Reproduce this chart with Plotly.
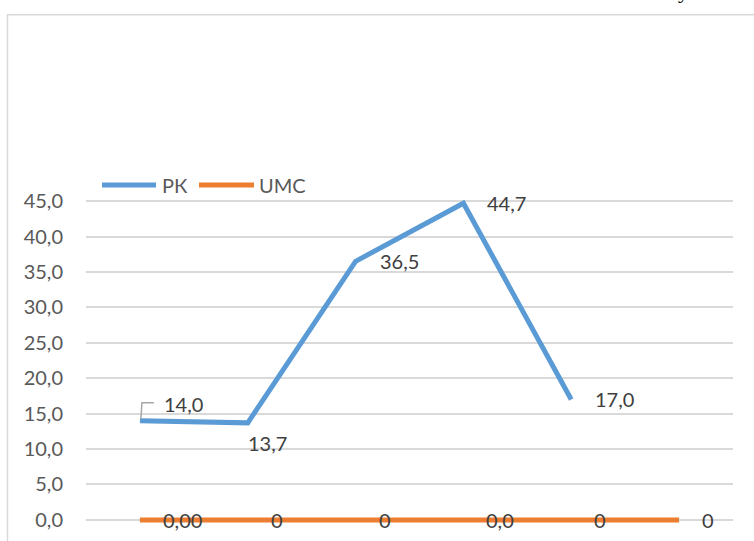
import plotly.graph_objects as go

# Series data
categories = ["1", "2", "3", "4", "5", "6"]
series_names = ["РК", "UMC"]
rk_values = [14.0, 13.7, 36.5, 44.7, 17.0, None]
umc_values = [0, 0, 0, 0, 0, 0]
umc_labels = ["0,00", "0", "0", "0,0", "0", "0"]
y_ticks = [0, 5, 10, 15, 20, 25, 30, 35, 40, 45]

BLUE = "#5B9BD5"
ORANGE = "#ED7D31"
GRID = "#D9D9D9"
TICK_COLOR = "#595959"
LABEL_COLOR = "#404040"
FONT = "Lato"
FS = 20

W, H = 754, 541
L, R, T, B = 86, 21, 194, 10
Y_MIN, Y_MAX = -1, 46
plot_w = W - L - R
plot_h = H - T - B


def px_to_paper_x(px):
    return (px - L) / plot_w


def px_to_paper_y(py):
    return (H - B - py) / plot_h


x = list(range(len(categories)))

fig = go.Figure()
fig.add_trace(go.Scatter(
    x=x, y=rk_values, name=series_names[0], mode="lines",
    line=dict(color=BLUE, width=5), cliponaxis=False, connectgaps=False,
    showlegend=False,
))
fig.add_trace(go.Scatter(
    x=x, y=umc_values, name=series_names[1], mode="lines",
    line=dict(color=ORANGE, width=5), cliponaxis=False,
    showlegend=False,
))

annotations = []


def fmt(v):
    return f"{v:.1f}".replace(".", ",")


# Value labels for РК
for i, v in enumerate(rk_values):
    if v is None:
        continue
    if i == 1:
        xs, ys = -2, -20
    elif i == 0:
        xs, ys = 22, 17
    else:
        xs, ys = 22, 0
    annotations.append(dict(
        x=x[i], y=v, xref="x", yref="y", text=fmt(v), showarrow=False,
        xanchor="left", yanchor="middle", xshift=xs, yshift=ys,
        font=dict(family=FONT, size=FS, color=LABEL_COLOR),
    ))

# Value labels for UMC
for i, (v, lab) in enumerate(zip(umc_values, umc_labels)):
    annotations.append(dict(
        x=x[i], y=v, xref="x", yref="y", text=lab, showarrow=False,
        xanchor="left", yanchor="middle", xshift=21, yshift=0,
        font=dict(family=FONT, size=FS, color=LABEL_COLOR),
    ))

# Legend entries (line sample + name) along the top of the plot
legend_items = [
    (series_names[0], BLUE, 102, 156, 160),
    (series_names[1], ORANGE, 199, 254, 257),
]
LEG_Y = 185
shapes = []
for name, color, lx0, lx1, tx in legend_items:
    shapes.append(dict(
        type="line", xref="paper", yref="paper",
        x0=px_to_paper_x(lx0), x1=px_to_paper_x(lx1),
        y0=px_to_paper_y(LEG_Y), y1=px_to_paper_y(LEG_Y),
        line=dict(color=color, width=5),
    ))
    annotations.append(dict(
        x=px_to_paper_x(tx), y=px_to_paper_y(LEG_Y), xref="paper", yref="paper",
        text=name, showarrow=False, xanchor="left", yanchor="middle",
        font=dict(family=FONT, size=FS, color=TICK_COLOR),
    ))

# Tail of a character from the surrounding text, above the chart frame
annotations.append(dict(
    x=px_to_paper_x(683), y=px_to_paper_y(-12), xref="paper", yref="paper",
    text="у", showarrow=False, xanchor="center", yanchor="middle",
    font=dict(family="Liberation Serif", size=22, color="#000000"),
))

shapes += [
    # chart frame
    dict(type="rect", xref="paper", yref="paper",
         x0=px_to_paper_x(7.5), x1=px_to_paper_x(W + 20),
         y0=px_to_paper_y(H + 20), y1=px_to_paper_y(12.5),
         line=dict(color=GRID, width=1.5), fillcolor="rgba(0,0,0,0)", layer="below"),
    # leader line of the first label
    dict(type="path", xref="x", yref="y",
         xsizemode="pixel", ysizemode="pixel",
         xanchor=x[0], yanchor=rk_values[0],
         path="M 1,2 L 2,18 L 14,18",
         line=dict(color="#A6A6A6", width=1.5)),
]

fig.update_layout(
    width=W, height=H,
    margin=dict(l=L, r=R, t=T, b=B, pad=0),
    paper_bgcolor="white", plot_bgcolor="white",
    separators=", ",
    font=dict(family=FONT, size=FS, color=TICK_COLOR),
    showlegend=False,
    xaxis=dict(
        range=[-0.5, len(categories) - 0.5], showgrid=False, zeroline=False,
        showticklabels=False, ticks="", showline=False, fixedrange=True,
    ),
    yaxis=dict(
        range=[Y_MIN, Y_MAX], tickvals=y_ticks, tickformat=".1f",
        showgrid=True, gridcolor=GRID, gridwidth=1.5, zeroline=False,
        showline=False, ticks="", ticklabelstandoff=22,
        tickfont=dict(family=FONT, size=FS, color=TICK_COLOR),
    ),
    annotations=annotations,
    shapes=shapes,
)

fig.write_html("out.html")
